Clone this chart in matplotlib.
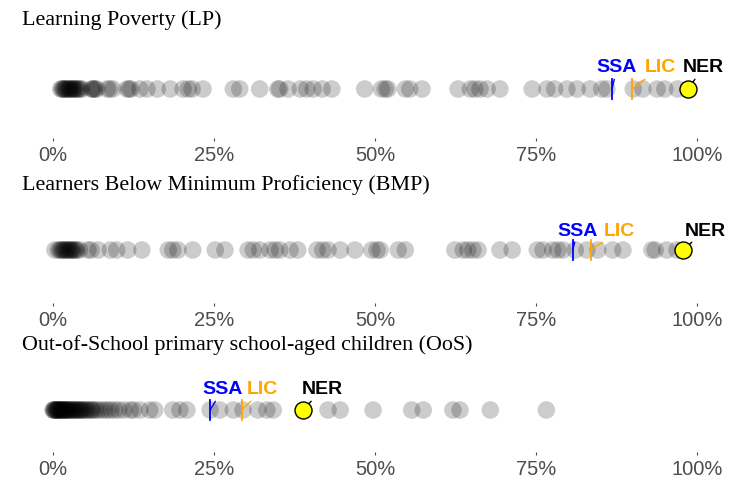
import matplotlib
matplotlib.use("Agg")
import matplotlib.pyplot as plt

# country values (%) per indicator
lp_values = [1.2, 1.4, 1.6, 1.7, 1.9, 2.0, 2.2, 2.4, 2.6, 2.7, 2.9, 3.1, 3.2, 3.4, 3.6,
             3.8, 4.0, 4.2, 4.5, 6.0, 6.1, 6.4, 6.5, 6.8, 8.4, 8.8, 9.3,
             11.5, 11.8, 12.1, 13.5, 14.6, 16.2, 18.2, 20.2, 21.0, 21.6, 23.3, 28.0, 29.0,
             32.1, 34.9, 35.2, 36.5, 38.4, 39.4, 40.4, 41.8, 43.3, 48.4, 51.0, 52.0, 51.6,
             54.7, 55.4, 57.3, 62.9, 64.8, 65.5, 66.3, 67.4, 69.4, 74.4, 76.7, 77.9, 79.8,
             81.4, 83.4, 85.2, 86.0, 90.1, 91.6, 93.8, 95.0, 97.0]
bmp_values = [0.3, 0.8, 1.1, 1.3, 1.5, 1.7, 1.9, 2.1, 2.3, 2.5, 2.7, 2.9, 3.0, 3.3, 3.5,
              3.7, 4.1, 5.4, 5.9, 7.0, 8.9, 9.9,
              11.6, 13.8, 17.9, 18.6, 19.4, 21.7, 25.2, 26.7, 30.3, 31.1, 32.1, 33.7,
              34.5, 35.2, 36.8, 38.0, 41.0, 41.9, 42.7, 44.6, 46.9, 49.5, 50.3, 50.8,
              53.6, 54.7, 62.4, 63.7, 64.4, 65.2, 66.0, 69.4, 71.3, 75.2, 76.1, 77.6,
              78.4, 79.2, 81.1, 82.9, 84.6, 86.9, 88.5, 93.0, 93.5, 95.3, 96.9]
oos_values = [0.0, 0.1, 0.2, 0.3, 0.4, 0.5, 0.6, 0.7, 0.8, 0.9, 1.0, 1.1, 1.2, 1.3, 1.4,
              1.5, 1.6, 1.8, 1.9, 2.0, 2.1, 2.2, 2.4, 2.5, 2.7, 2.8, 3.0, 3.1, 3.3, 3.5,
              3.6, 3.8, 4.0, 4.2, 4.3, 4.5, 4.7, 5.0, 5.2, 5.4, 5.8, 6.0, 6.2, 6.6, 7.0,
              7.5, 8.0, 8.5, 9.0, 9.6, 10.2, 11.0, 12.0, 12.5, 13.5, 15.0, 15.8, 18.6,
              19.7, 20.8, 24.4, 25.9, 28.0, 29.5, 31.8, 33.2, 34.2, 42.7, 44.6, 49.7,
              55.7, 57.5, 62.1, 63.2, 67.9, 76.6]

titles = ["Learning Poverty (LP)",
          "Learners Below Minimum Proficiency (BMP)",
          "Out-of-School primary school-aged children (OoS)"]
series = [lp_values, bmp_values, oos_values]
ssa = [86.8, 80.7, 24.4]
lic = [89.9, 83.5, 29.3]
ner = [98.6, 97.8, 38.8]
ticks = [0, 25, 50, 75, 100]
tick_labels = ["0%", "25%", "50%", "75%", "100%"]

W, H = 738, 484
fig = plt.figure(figsize=(W / 100, H / 100), dpi=100)

dot_rows = [89, 250, 410]      # pixel row of the dots
tick_rows = [138, 303, 452]    # pixel row of the tick marks (axes bottom)
title_rows = [20, 185, 345]
# label offsets in pixels (dx for SSA, LIC, NER; dy shared)
ssa_dx = [5, 5, 12]
lic_dx = [28, 29, 21]
ner_dx = [15, 22, 19]
lab_dy = [21, 19, 20]

for i in range(3):
    y = dot_rows[i]
    tb = tick_rows[i]
    top = y - 34
    ax = fig.add_axes([30 / W, 1 - tb / H, 690 / W, (tb - top) / H])
    ax.set_xlim(-3.57, 103.57)
    ax.set_ylim(-(tb - y) / 34, 1)
    vals = series[i]
    ax.scatter(vals, [0] * len(vals), s=160, color="black", alpha=0.2,
               edgecolors="none", zorder=2)
    # SSA / LIC reference lines
    ax.plot([ssa[i], ssa[i]], [-0.3, 0.3], color="blue", lw=1.3, zorder=3)
    ax.plot([lic[i], lic[i]], [-0.3, 0.3], color="orange", lw=1.3, zorder=3)
    ax.annotate("SSA", xy=(ssa[i], 0.0), xytext=(ssa_dx[i], lab_dy[i]),
                textcoords="offset pixels",
                ha="center", va="center", color="blue", fontweight="bold",
                fontsize=14, family="Liberation Sans",
                arrowprops=dict(arrowstyle="-", color="blue", lw=1, shrinkA=0, shrinkB=0))
    ax.annotate("LIC", xy=(lic[i], 0.0), xytext=(lic_dx[i], lab_dy[i]),
                textcoords="offset pixels",
                ha="center", va="center", color="orange", fontweight="bold",
                fontsize=14, family="Liberation Sans",
                arrowprops=dict(arrowstyle="-", color="orange", lw=1, shrinkA=0, shrinkB=0))
    # NER
    ax.scatter([ner[i]], [0], s=150, color="yellow", edgecolors="black", linewidths=1,
               zorder=4)
    ax.annotate("NER", xy=(ner[i], 0), xytext=(ner_dx[i], lab_dy[i]),
                textcoords="offset pixels",
                ha="center", va="center", color="black", fontweight="bold",
                fontsize=14, family="Liberation Sans",
                arrowprops=dict(arrowstyle="-", color="black", lw=1, shrinkA=0, shrinkB=6))
    ax.set_xticks(ticks)
    ax.set_xticklabels(tick_labels, family="Liberation Sans", fontsize=14.5, color="#4d4d4d")
    ax.tick_params(axis="x", length=2.5, width=0.8, color="#4d4d4d", pad=3,
                   direction="out")
    ax.set_yticks([])
    for sp in ax.spines.values():
        sp.set_visible(False)
    ax.patch.set_alpha(0)
    fig.text(22 / W, 1 - title_rows[i] / H, titles[i], family="Liberation Serif",
             fontsize=15.8, va="center", ha="left")

fig.savefig("out.png", dpi=100)
